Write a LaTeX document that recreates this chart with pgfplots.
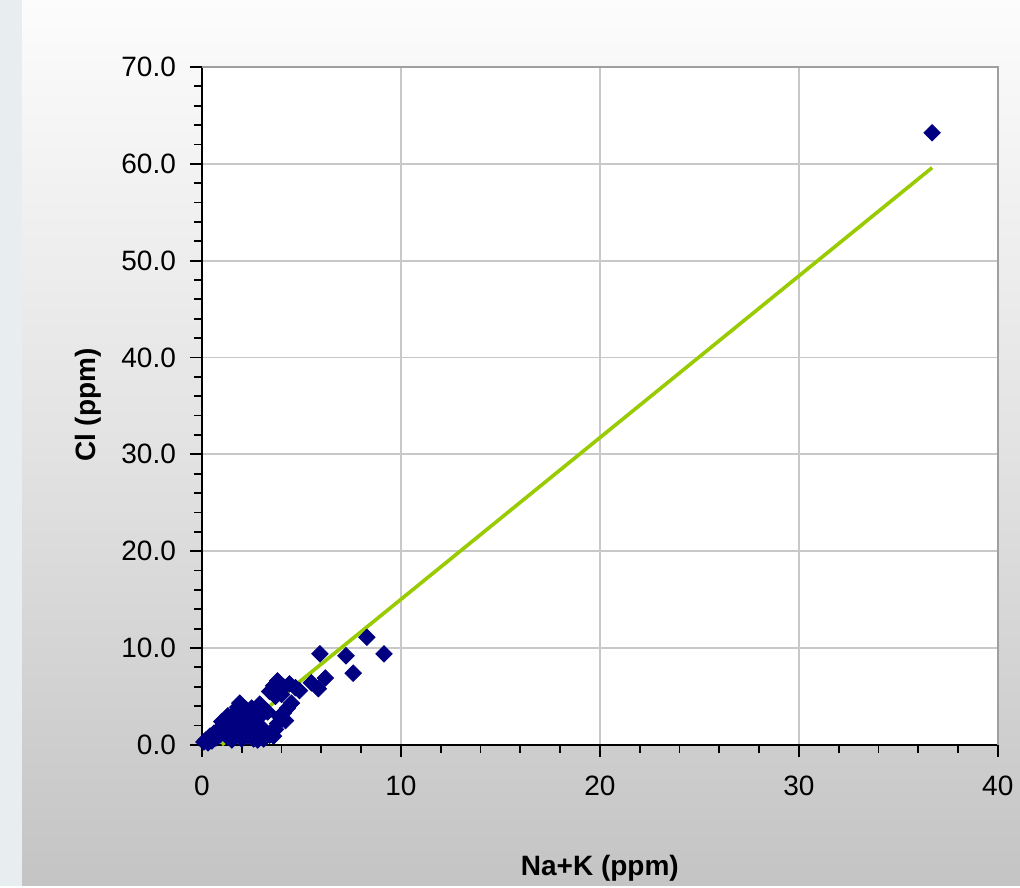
\documentclass[border=0pt]{standalone}
\usepackage{pgfplots}
\pgfplotsset{compat=1.18}
\usepackage{fontspec}
\setmainfont{Liberation Sans}
\definecolor{navyb}{HTML}{000080}
\definecolor{trend}{HTML}{99CC00}
\definecolor{bgtop}{HTML}{FCFCFC}
\definecolor{bgbot}{HTML}{C4C4C4}
\definecolor{strip}{HTML}{E8EEF0}
\definecolor{gridc}{HTML}{C8C8C8}
\begin{document}
\begin{tikzpicture}
% background
\shade[top color=bgtop, bottom color=bgbot, middle color=bgbot!45!bgtop, shading angle=0] (-101pt,-70.5pt) rectangle (409pt,372.5pt);
\fill[strip] (-101pt,-70.5pt) rectangle (-90pt,372.5pt);
\begin{axis}[
  at={(0,0)}, anchor=south west,
  scale only axis,
  width=398pt, height=339pt,
  xmin=0, xmax=40, ymin=0, ymax=70,
  axis background/.style={fill=white},
  axis lines*=left,
  axis line style={black, line width=1pt},
  xtick={0,10,20,30,40},
  ytick={0,10,20,30,40,50,60,70},
  yticklabels={0.0,10.0,20.0,30.0,40.0,50.0,60.0,70.0},
  xticklabels={0,10,20,30,40},
  minor x tick num=4, minor y tick num=4,
  tick align=outside,
  major tick length=6pt, minor tick length=4pt,
  every tick/.style={black, line width=0.9pt},
  grid=major,
  major grid style={gridc, line width=0.9pt},
  ticklabel style={font=\fontsize{14}{16}\selectfont},
  xticklabel style={yshift=-6pt},
  yticklabel style={xshift=-3.5pt},
  xlabel={Na+K (ppm)},
  ylabel={Cl (ppm)},
  label style={font=\bfseries\fontsize{14}{16}\selectfont},
  x label style={at={(axis description cs:0.5,0)}, anchor=center, yshift=-61.5pt},
  y label style={at={(axis description cs:-0.1432,0.501)}, anchor=center},
  clip=false,
]
\draw[gray!75, line width=1pt] (rel axis cs:0,1) -- (rel axis cs:1,1) -- (rel axis cs:1,0);
\addplot[only marks, mark=square*, mark size=2.9pt, mark options={rotate=45, fill=navyb, draw=navyb}] coordinates {
(0.1,0.3) (0.2,0.5) (0.3,0.2) (0.4,0.9) (0.5,0.4) (0.6,1.2) (0.7,0.7) (0.8,1.5)
(0.9,1.0) (1.0,1.8) (1.1,1.3) (1.2,2.2) (1.3,0.8) (1.4,2.7) (1.5,1.8) (1.6,3.2)
(1.7,1.2) (1.8,3.9) (1.9,4.3) (2.0,3.4) (2.1,2.3) (2.2,3.7) (2.3,0.9) (2.4,1.6)
(2.5,3.3) (2.6,2.6) (2.7,1.0) (2.8,3.8) (2.9,2.0) (3.0,0.8) (3.2,1.3) (3.4,1.0)
(3.5,1.4) (3.7,1.6) (3.8,2.2) (3.9,2.9) (4.1,3.3) (4.3,3.8) (4.5,4.3) (3.3,3.4)
(3.4,5.5) (3.6,6.1) (3.8,6.6) (4.1,6.0) (4.4,6.3) (4.0,5.2) (4.9,5.6) (5.5,6.4)
(5.85,5.8) (6.2,6.9) (5.93,9.4) (7.24,9.2) (8.29,11.1) (9.15,9.4) (7.6,7.4)
(1.0,2.4) (1.3,3.0) (1.6,2.2) (1.9,1.5) (2.2,1.2) (2.5,2.0) (2.6,0.6) (2.0,0.6)
(1.5,0.5) (2.8,0.5) (3.1,0.6) (3.6,0.9) (4.2,2.5) (1.8,2.8) (2.3,2.9) (2.9,4.2)
(2.5,3.8) (3.7,5.0) (4.7,5.9) (3.0,3.1)
(36.7,63.2)
};
\addplot[trend, line width=1.8pt] coordinates {(1.0,0) (36.7,59.6)};
\end{axis}
\end{tikzpicture}
\end{document}
